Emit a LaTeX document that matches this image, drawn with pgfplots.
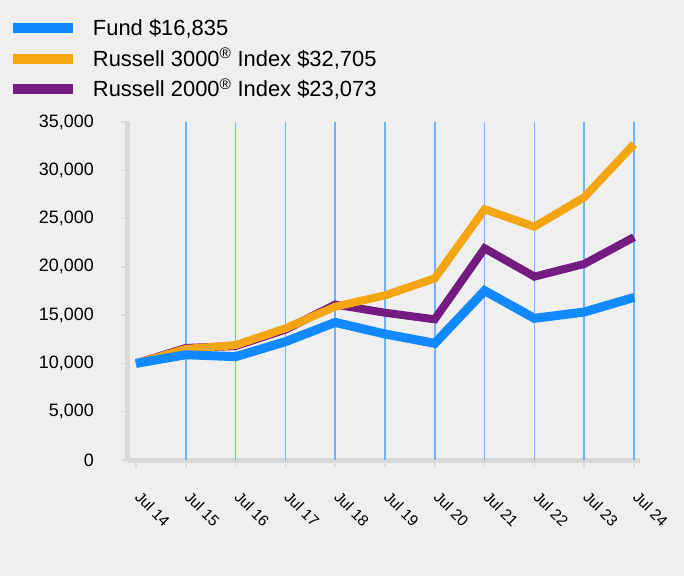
\documentclass[border=0pt]{standalone}
\usepackage{fontspec}
\setmainfont{Liberation Sans}
\usepackage{pgfplots}
\pgfplotsset{compat=1.18}
\definecolor{bg}{HTML}{EFEFEF}
\definecolor{axisgray}{HTML}{D9D9D9}
\definecolor{gridblue}{HTML}{6EB4FF}
\definecolor{fundblue}{HTML}{1389FF}
\definecolor{rorange}{HTML}{F3A512}
\definecolor{rpurple}{HTML}{741C82}
\begin{document}
\begin{tikzpicture}
\fill[bg] (-128bp,-116bp) rectangle (556bp,460bp);
\begin{axis}[
  at={(0,0)}, anchor=south west,
  width=512bp, height=338bp, scale only axis,
  xmin=-0.16, xmax=10.12, ymin=0, ymax=35000,
  axis x line*=bottom, axis y line*=left,
  axis line style={line width=5bp, draw=axisgray},
  xtick={0,...,10},
  xticklabels={Jul 14,Jul 15,Jul 16,Jul 17,Jul 18,Jul 19,Jul 20,Jul 21,Jul 22,Jul 23,Jul 24},
  ytick={0,5000,...,35000},
  tick style={draw=axisgray, line width=1.5bp},
  major tick length=7bp, tick align=outside,
  scaled y ticks=false,
  /pgf/number format/assume math mode=true,
  /pgf/number format/1000 sep={,},
  yticklabel style={font=\fontsize{18}{20}\selectfont, anchor=east, inner sep=0pt, xshift=-27bp},
  xticklabel style={font=\fontsize{15.5}{17}\selectfont, anchor=north west, inner sep=0pt, xshift=6bp, yshift=-23bp, rotate=-45},
  extra x ticks={1,...,10}, extra x tick labels={},
  extra x tick style={xmajorgrids=true, major tick length=0pt, grid style={draw=gridblue, line width=1.5bp}},
  clip=false,
  legend image code/.code={\draw[#1,line width=10bp] (0bp,0bp) -- (60bp,0bp);},
  legend cell align=left,
  legend style={at={(axis description cs:-0.2344,1.300)}, anchor=north west,
    draw=none, fill=none, inner sep=0pt, outer sep=0pt,
    font=\fontsize{22}{24}\selectfont,
    row sep=15.5bp,
    nodes={inner sep=0pt, text height=15bp, text depth=0bp},
    /tikz/every odd column/.append style={column sep=15bp}},
]
\addlegendimage{fundblue}
\addlegendentry{Fund \$16,835}
\addlegendimage{rorange}
\addlegendentry{Russell 3000\textsuperscript{®} Index \$32,705}
\addlegendimage{rpurple}
\addlegendentry{Russell 2000\textsuperscript{®} Index \$23,073}

\addplot[rpurple, line width=8bp, forget plot] coordinates {
(0,10000) (1,11600) (2,11800) (3,13500) (4,16100) (5,15250) (6,14570) (7,21920) (8,18990) (9,20300) (10,23073)};
\addplot[rorange, line width=8bp, forget plot] coordinates {
(0,10000) (1,11500) (2,11900) (3,13630) (4,15880) (5,17050) (6,18810) (7,25960) (8,24160) (9,27200) (10,32705)};
\addplot[fundblue, line width=9bp, forget plot] coordinates {
(0,10000) (1,10900) (2,10700) (3,12250) (4,14250) (5,13050) (6,12080) (7,17530) (8,14670) (9,15320) (10,16835)};
\end{axis}
\end{tikzpicture}
\end{document}
